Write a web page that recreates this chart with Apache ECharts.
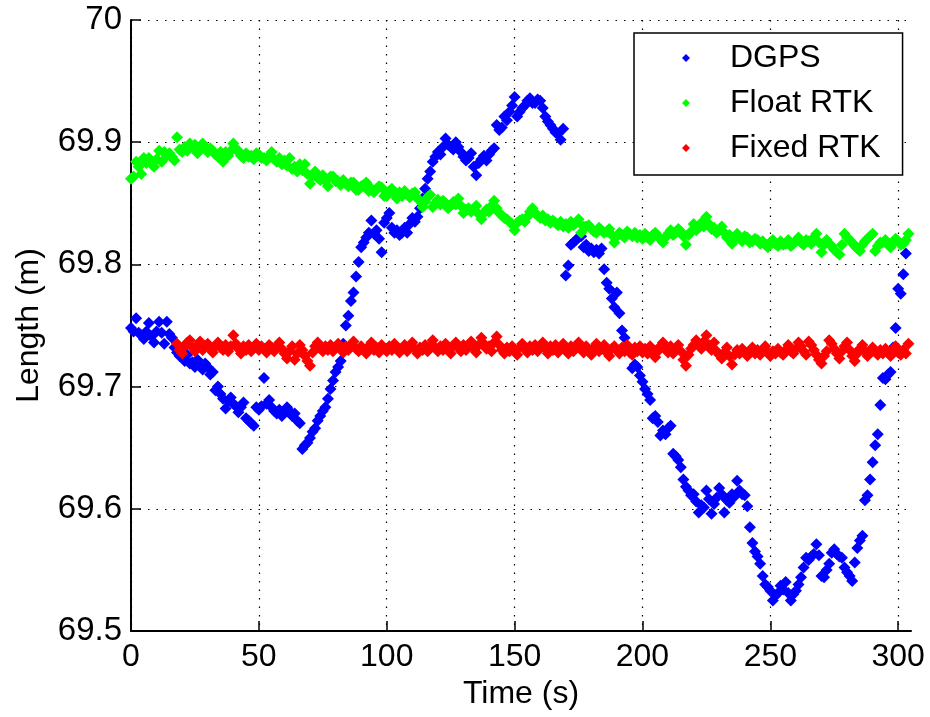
<!DOCTYPE html>
<html>
<head>
<meta charset="utf-8">
<script src="https://cdn.jsdelivr.net/npm/echarts@6/dist/echarts.min.js"></script>
<style>html,body{margin:0;padding:0;background:#fff}#c{width:930px;height:717px}</style>
</head>
<body>
<div id="c"></div>
<script>
// Series names
const SERIES_NAMES = ['DGPS', 'Float RTK', 'Fixed RTK'];
// X tick labels
const X_TICKS = [0, 50, 100, 150, 200, 250, 300];
const Y_TICKS = [69.5, 69.6, 69.7, 69.8, 69.9, 70];
// Sampling: one sample per second, first time stamp of each series
const DGPS_START = 0;
const FLOAT_START = 0;
const FIXED_START = 18;

const DGPS = [
69.748,69.745,69.756,69.744,69.742,69.739,69.745,69.752,69.741,69.736,
69.745,69.753,69.744,69.735,69.753,69.743,69.740,69.732,69.728,69.725,
69.724,69.721,69.726,69.719,69.720,69.716,69.722,69.718,69.714,69.719,
69.716,69.710,69.712,69.697,69.700,69.694,69.690,69.682,69.688,69.691,
69.686,69.684,69.679,69.683,69.687,69.674,69.672,69.670,69.668,69.683,
69.681,69.684,69.707,69.686,69.689,69.683,69.680,69.678,69.681,69.676,
69.679,69.683,69.680,69.676,69.678,69.672,69.670,69.649,69.652,69.654,
69.658,69.663,69.666,69.672,69.676,69.680,69.683,69.690,69.698,69.705,
69.712,69.716,69.721,69.735,69.750,69.758,69.770,69.777,69.790,69.802,
69.814,69.818,69.822,69.826,69.836,69.825,69.828,69.821,69.810,69.834,
69.838,69.842,69.830,69.826,69.828,69.824,69.826,69.830,69.826,69.833,
69.838,69.835,69.839,69.846,69.854,69.862,69.870,69.876,69.884,69.888,
69.892,69.890,69.896,69.903,69.898,69.896,69.894,69.900,69.896,69.892,
69.888,69.885,69.887,69.891,69.880,69.873,69.883,69.886,69.889,69.885,
69.890,69.893,69.895,69.914,69.910,69.912,69.921,69.918,69.925,69.930,
69.937,69.921,69.925,69.928,69.930,69.934,69.936,69.932,69.932,69.935,
69.934,69.928,69.921,69.917,69.914,69.911,69.908,69.907,69.902,69.911,
69.791,69.799,69.816,69.818,69.820,69.822,69.823,69.814,69.816,69.811,
69.813,69.810,69.812,69.809,69.813,69.796,69.785,69.780,69.772,69.765,
69.777,69.760,69.746,69.740,69.733,69.728,69.715,69.718,69.716,69.709,
69.704,69.698,69.694,69.689,69.674,69.676,69.671,69.660,69.664,69.661,
69.666,69.668,69.645,69.643,69.640,69.634,69.624,69.618,69.615,69.611,
69.612,69.606,69.597,69.603,69.601,69.615,69.608,69.596,69.604,69.609,
69.617,69.612,69.597,69.607,69.605,69.612,69.610,69.623,69.615,69.612,
69.611,69.602,69.585,69.572,69.565,69.561,69.555,69.545,69.538,69.536,
69.533,69.525,69.529,69.531,69.537,69.534,69.540,69.531,69.525,69.530,
69.533,69.538,69.544,69.552,69.560,69.558,69.561,69.563,69.571,69.562,
69.545,69.544,69.550,69.555,69.564,69.567,69.563,69.561,69.560,69.552,
69.548,69.545,69.541,69.556,69.568,69.574,69.578,69.607,69.611,69.624,
69.638,69.652,69.661,69.685,69.707,69.706,69.710,69.712,69.732,69.748,
69.780,69.776,69.792,69.809
];

const FLOAT_RTK = [
69.870,69.872,69.884,69.880,69.874,69.887,69.883,69.887,69.884,69.880,
69.886,69.893,69.884,69.892,69.889,69.891,69.888,69.885,69.904,69.894,
69.892,69.896,69.893,69.899,69.896,69.898,69.891,69.895,69.899,69.896,
69.892,69.895,69.893,69.890,69.888,69.892,69.884,69.892,69.889,69.893,
69.899,69.894,69.893,69.889,69.887,69.891,69.888,69.889,69.886,69.891,
69.890,69.887,69.887,69.885,69.889,69.892,69.886,69.884,69.887,69.882,
69.885,69.881,69.887,69.878,69.880,69.876,69.882,69.877,69.882,69.874,
69.866,69.872,69.876,69.871,69.869,69.873,69.868,69.864,69.872,69.872,
69.868,69.868,69.865,69.869,69.866,69.864,69.867,69.867,69.861,69.861,
69.864,69.865,69.867,69.860,69.862,69.859,69.862,69.864,69.863,69.856,
69.856,69.860,69.862,69.857,69.854,69.859,69.856,69.860,69.857,69.855,
69.858,69.859,69.854,69.852,69.847,69.851,69.855,69.857,69.847,69.850,
69.853,69.849,69.852,69.850,69.846,69.848,69.851,69.849,69.854,69.848,
69.842,69.845,69.846,69.843,69.845,69.848,69.841,69.837,69.842,69.845,
69.843,69.848,69.852,69.846,69.842,69.840,69.838,69.837,69.835,69.833,
69.828,69.834,69.836,69.837,69.835,69.839,69.843,69.846,69.842,69.840,
69.838,69.840,69.836,69.837,69.834,69.836,69.834,69.832,69.835,69.831,
69.833,69.830,69.835,69.832,69.834,69.837,69.826,69.831,69.831,69.832,
69.829,69.827,69.826,69.830,69.828,69.826,69.827,69.829,69.824,69.818,
69.823,69.826,69.824,69.822,69.827,69.825,69.823,69.826,69.822,69.824,
69.821,69.825,69.822,69.820,69.824,69.826,69.823,69.821,69.818,69.822,
69.825,69.828,69.824,69.826,69.829,69.827,69.823,69.816,69.824,69.827,
69.833,69.828,69.830,69.834,69.831,69.839,69.833,69.829,69.830,69.826,
69.828,69.831,69.826,69.822,69.824,69.817,69.821,69.825,69.822,69.819,
69.823,69.822,69.818,69.819,69.821,69.820,69.817,69.819,69.816,69.814,
69.818,69.820,69.817,69.815,69.819,69.816,69.817,69.820,69.815,69.817,
69.819,69.822,69.818,69.816,69.820,69.819,69.817,69.822,69.825,69.818,
69.810,69.816,69.820,69.817,69.815,69.812,69.810,69.808,69.816,69.825,
69.822,69.820,69.818,69.815,69.813,69.811,69.816,69.819,69.821,69.823,
69.825,69.811,69.815,69.818,69.818,69.820,69.816,69.814,69.818,69.821,
69.819,69.816,69.817,69.820,69.825
];

const FIXED_RTK = [
69.735,69.730,69.727,69.733,69.736,69.738,69.732,69.729,69.734,69.737,
69.730,69.733,69.735,69.731,69.728,69.733,69.736,69.732,69.730,69.734,
69.729,69.733,69.742,69.735,69.731,69.727,69.733,69.730,69.734,69.729,
69.732,69.735,69.730,69.733,69.731,69.728,69.734,69.732,69.729,69.733,
69.736,69.731,69.727,69.723,69.729,69.733,69.722,69.727,69.734,69.730,
69.725,69.721,69.717,69.728,69.733,69.736,69.731,69.729,69.733,69.730,
69.734,69.729,69.732,69.735,69.731,69.728,69.733,69.730,69.734,69.737,
69.731,69.729,69.733,69.730,69.727,69.733,69.736,69.730,69.732,69.728,
69.734,69.731,69.729,69.733,69.730,69.735,69.732,69.728,69.731,69.734,
69.729,69.733,69.736,69.731,69.727,69.732,69.730,69.734,69.729,69.733,
69.738,69.732,69.729,69.733,69.730,69.735,69.731,69.727,69.733,69.736,
69.732,69.729,69.734,69.730,69.733,69.737,69.731,69.728,69.734,69.740,
69.735,69.731,69.733,69.729,69.736,69.741,69.734,69.730,69.727,69.732,
69.729,69.733,69.730,69.726,69.732,69.735,69.731,69.728,69.733,69.730,
69.734,69.729,69.732,69.736,69.731,69.727,69.733,69.730,69.734,69.728,
69.731,69.735,69.730,69.727,69.733,69.729,69.732,69.736,69.731,69.728,
69.733,69.730,69.726,69.732,69.735,69.729,69.731,69.734,69.728,69.725,
69.731,69.733,69.730,69.727,69.732,69.729,69.734,69.730,69.726,69.732,
69.729,69.733,69.728,69.731,69.727,69.733,69.730,69.724,69.729,69.733,
69.736,69.731,69.728,69.733,69.727,69.730,69.734,69.729,69.722,69.717,
69.726,69.731,69.734,69.738,69.735,69.731,69.737,69.742,69.734,69.730,
69.736,69.729,69.726,69.723,69.728,69.732,69.725,69.718,69.726,69.730,
69.727,69.731,69.728,69.725,69.729,69.732,69.727,69.730,69.726,69.729,
69.733,69.728,69.725,69.729,69.727,69.731,69.728,69.726,69.730,69.734,
69.729,69.727,69.731,69.736,69.733,69.729,69.726,69.737,69.734,69.730,
69.726,69.722,69.719,69.725,69.729,69.738,69.735,69.731,69.727,69.723,
69.729,69.733,69.736,69.730,69.725,69.721,69.727,69.731,69.734,69.729,
69.725,69.728,69.732,69.729,69.726,69.730,69.727,69.731,69.728,69.725,
69.729,69.733,69.728,69.726,69.730,69.727,69.735
];

const COLORS = ['#0000ff', '#00ff00', '#ff0000'];

function toPairs(start, arr) {
  return arr.map((v, i) => [start + i, v]);
}

const FONT = "'Liberation Sans', Arial, Helvetica, sans-serif";
const chart = echarts.init(document.getElementById('c'), null, {renderer: 'canvas'});

const seriesData = [toPairs(DGPS_START, DGPS), toPairs(FLOAT_START, FLOAT_RTK), toPairs(FIXED_START, FIXED_RTK)];

chart.setOption({
  animation: false,
  backgroundColor: '#fff',
  textStyle: {fontFamily: FONT, color: '#000'},
  grid: {left: 131, right: 19, top: 20, bottom: 86, containLabel: false},
  xAxis: {
    type: 'value', min: 0, max: 305, interval: 50,
    name: 'Time (s)', nameLocation: 'middle', nameGap: 44,
    nameTextStyle: {fontFamily: FONT, fontSize: 32, color: '#000'},
    axisLine: {show: true, onZero: false, lineStyle: {color: '#000', width: 2}},
    axisTick: {show: true, inside: true, length: 10, lineStyle: {color: '#000', width: 1.5}, customValues: X_TICKS},
    axisLabel: {fontFamily: FONT, fontSize: 32, color: '#000', margin: 10, customValues: X_TICKS},
    splitLine: {show: true, showMaxLine: true, lineStyle: {color: '#000', width: 1.2, type: [1.5, 7]}}
  },
  yAxis: {
    type: 'value', min: 69.5, max: 70, interval: 0.1,
    name: 'Length (m)', nameLocation: 'middle', nameGap: 86, nameRotate: 90,
    nameTextStyle: {fontFamily: FONT, fontSize: 32, color: '#000'},
    axisLine: {show: true, onZero: false, lineStyle: {color: '#000', width: 2}},
    axisTick: {show: true, inside: true, length: 10, lineStyle: {color: '#000', width: 1.5}},
    axisLabel: {fontFamily: FONT, fontSize: 33, color: '#000', margin: 9,
      formatter: v => String(+v.toFixed(1))},
    splitLine: {show: true, lineStyle: {color: '#000', width: 1.2, type: [1.5, 7]}}
  },
  legend: {
    orient: 'vertical', left: 634, top: 33,
    padding: [9, 22, 11, 48], itemGap: 13,
    backgroundColor: '#fff', borderColor: '#000', borderWidth: 1.5, borderRadius: 0,
    itemWidth: 8, itemHeight: 8, icon: 'diamond',
    textStyle: {fontFamily: FONT, fontSize: 32, color: '#000', padding: [0, 0, 0, 35]},
    data: SERIES_NAMES
  },
  series: SERIES_NAMES.map((n, i) => ({
    name: n, type: 'scatter', symbol: 'diamond', symbolSize: 12,
    itemStyle: {color: COLORS[i], opacity: 1},
    data: seriesData[i]
  }))
});
</script>
</body>
</html>
